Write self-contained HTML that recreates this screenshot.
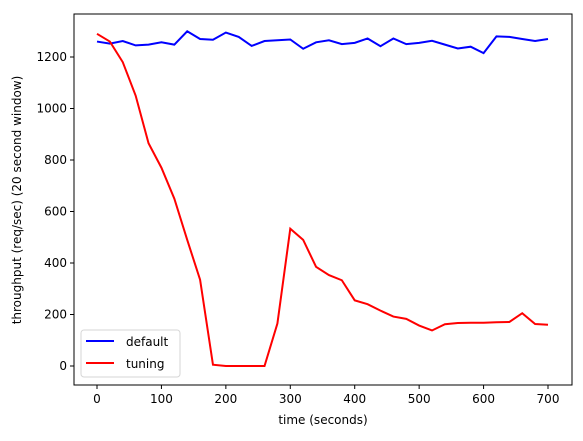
<!DOCTYPE html>
<html><head><meta charset="utf-8"><style>
body{margin:0;background:#fff;}
svg text{font-family:"DejaVu Sans","Liberation Sans",sans-serif;font-size:12px;fill:#000;}
</style></head><body>
<svg width="583" height="436">
<rect x="74" y="14" width="498" height="371" fill="#fff" stroke="#000" stroke-width="1"/>
<g id="axes"></g>
<g id="series"></g>
<text x="323" y="424" text-anchor="middle">time (seconds)</text>
<text transform="translate(21,200) rotate(-90)" text-anchor="middle">throughput (req/sec) (20 second window)</text>
<g>
<rect x="81" y="330" width="99" height="47" rx="3" fill="#fff" stroke="#ccc" stroke-opacity="0.8"/>
<line x1="86" y1="341" x2="114" y2="341" stroke="#00f" stroke-width="2"/>
<text x="126" y="346">default</text>
<line x1="86" y1="363" x2="114" y2="363" stroke="#f00" stroke-width="2"/>
<text x="126" y="368">tuning</text>
</g>
</svg>
<script>
const times = [0,20,40,60,80,100,120,140,160,180,200,220,240,260,280,300,320,340,360,380,400,420,440,460,480,500,520,540,560,580,600,620,640,660,680,700];
const defaultValues = [1260,1252,1262,1245,1248,1257,1248,1300,1270,1267,1295,1278,1243,1262,1265,1268,1232,1257,1265,1250,1255,1272,1242,1272,1250,1255,1263,1248,1233,1240,1215,1280,1278,1270,1262,1270];
const tuningValues = [1290,1260,1180,1050,865,770,650,490,335,5,0,0,0,0,165,533,490,385,353,333,255,240,215,192,183,157,138,162,167,168,168,170,171,205,163,160];
const xTicks = [0,100,200,300,400,500,600,700];
const yTicks = [0,200,400,600,800,1000,1200];
const NS='http://www.w3.org/2000/svg';
const xs = v => 97 + v*(548-97)/700;
const ys = v => 366 - v*(366-57)/1200;
const axes=document.getElementById('axes');
xTicks.forEach(t=>{
  const l=document.createElementNS(NS,'line');
  l.setAttribute('x1',xs(t));l.setAttribute('x2',xs(t));l.setAttribute('y1',385);l.setAttribute('y2',389);l.setAttribute('stroke','#000');
  
  
  axes.appendChild(l);
  const tx=document.createElementNS(NS,'text');
  tx.setAttribute('x',xs(t));tx.setAttribute('y',403);tx.setAttribute('text-anchor','middle');tx.textContent=t;
  
  
  axes.appendChild(tx);
});
yTicks.forEach(t=>{
  const l=document.createElementNS(NS,'line');
  l.setAttribute('x1',70);l.setAttribute('x2',74);l.setAttribute('y1',ys(t));l.setAttribute('y2',ys(t));l.setAttribute('stroke','#000');
  
  
  axes.appendChild(l);
  const tx=document.createElementNS(NS,'text');
  tx.setAttribute('x',67);tx.setAttribute('y',ys(t)+4);tx.setAttribute('text-anchor','end');tx.textContent=t;
  
  
  axes.appendChild(tx);
});
const series=document.getElementById('series');
function draw(vals,color,name){
  const p=document.createElementNS(NS,'polyline');
  p.setAttribute('points',vals.map((v,i)=>xs(times[i])+','+ys(v)).join(' '));
  p.setAttribute('fill','none');p.setAttribute('stroke',color);p.setAttribute('stroke-width','2');
  
  
  series.appendChild(p);
}
draw(defaultValues,'#0000ff','default-line');
draw(tuningValues,'#ff0000','tuning-line');
</script>
</body></html>
